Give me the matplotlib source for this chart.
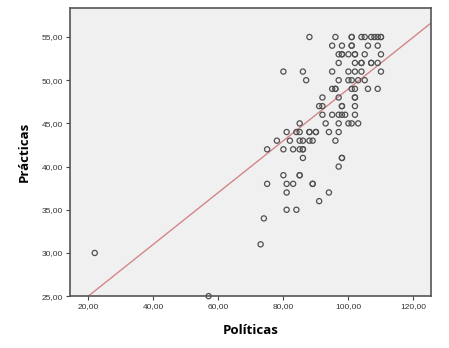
"""
Dispersión Políticas vs Prácticas con recta de ajuste
"""

import matplotlib
matplotlib.use("Agg")
import matplotlib.pyplot as plt
from matplotlib.ticker import FuncFormatter
import numpy as np

# puntos por fila (valor de Prácticas -> valores de Políticas)
rows = {
    55: [88, 96, 101, 101, 104, 105, 107, 108, 109, 110, 110],
    54: [95, 98, 101, 101, 106, 109],
    53: [97, 98, 98, 100, 102, 102, 105, 110],
    52: [97, 102, 104, 104, 107, 107, 109],
    51: [80, 86, 95, 100, 102, 104, 110],
    50: [87, 97, 100, 101, 103, 105],
    49: [95, 96, 96, 101, 102, 106, 109],
    48: [92, 97, 102, 102],
    47: [91, 92, 98, 98, 102],
    46: [92, 95, 97, 98, 99, 102],
    45: [85, 93, 97, 100, 101, 103],
    44: [81, 84, 85, 88, 88, 90, 90, 94, 97],
    43: [78, 82, 85, 86, 88, 89, 96],
    42: [75, 80, 83, 85, 86, 86],
    41: [86, 98, 98],
    40: [97],
    39: [80, 85, 85],
    38: [75, 81, 83, 89, 89],
    37: [81, 94],
    36: [91],
    35: [81, 84],
    34: [74],
    31: [73],
    30: [22],
    25: [57],
}
politicas = np.array([x for y, xs in rows.items() for x in xs], dtype=float)
practicas = np.array([y for y, xs in rows.items() for x in xs], dtype=float)

# recta de ajuste
fit_intercept = 19.0
fit_slope = 0.30

x_ticks = [20, 40, 60, 80, 100, 120]
y_ticks = [25, 30, 35, 40, 45, 50, 55]

fig = plt.figure(figsize=(4.49, 3.48), dpi=100)
ax = fig.add_axes([0.156, 0.149, 0.804, 0.829])
ax.set_facecolor('#f0f0f0')

ax.set_xlim(14.4, 125.4)
ax.set_ylim(25, 58.4)

# recta
xl = np.array(ax.get_xlim())
ax.plot(xl, fit_intercept + fit_slope * xl, color='#d4868a', linewidth=1.0, zorder=2)

# puntos
ax.scatter(politicas, practicas, s=14, facecolors='none', edgecolors='#505050',
           linewidths=0.9, zorder=3, clip_on=False)

fmt = FuncFormatter(lambda v, p: f"{v:.2f}".replace('.', ','))
ax.set_xticks(x_ticks)
ax.set_yticks(y_ticks)
ax.xaxis.set_major_formatter(fmt)
ax.yaxis.set_major_formatter(fmt)
ax.tick_params(direction='out', length=3, width=0.8, color='#444444',
               labelsize=6, labelcolor='#333333', pad=2)
for lab in ax.get_xticklabels() + ax.get_yticklabels():
    lab.set_family('Liberation Sans')

for s in ax.spines.values():
    s.set_color('#555555')
    s.set_linewidth(1.2)

ax.set_xlabel('Políticas', fontsize=9.5, fontweight='bold', family='Open Sans', labelpad=10)
ax.set_ylabel('Prácticas', fontsize=9.5, fontweight='bold', family='Open Sans', labelpad=8)

fig.savefig('out.png', dpi=100)
